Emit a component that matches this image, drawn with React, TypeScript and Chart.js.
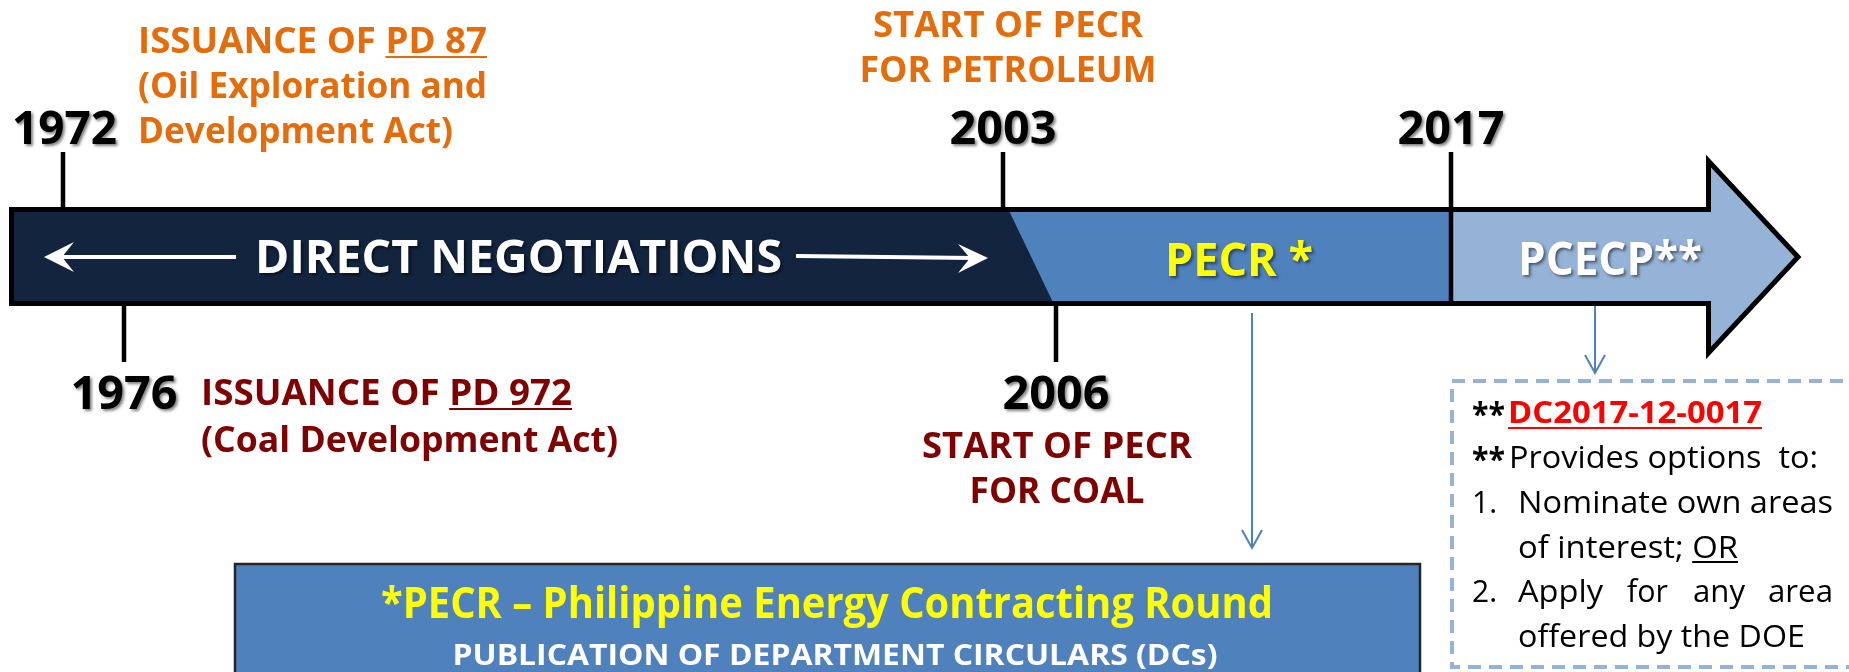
import React, { useEffect, useRef } from "react";
import { Chart, registerables } from "chart.js";

Chart.register(...registerables);

// ---------- data ----------
const years = ["1972", "1976", "2003", "2006", "2017"];
const yearSide = ["above", "below", "above", "below", "above"];
const phases = ["DIRECT NEGOTIATIONS", "PECR *", "PCECP**"];
const oilEvent = ["ISSUANCE OF ", "PD 87", "(Oil Exploration and", "Development Act)"];
const coalEvent = ["ISSUANCE OF ", "PD 972", "(Coal Development Act)"];
const petroleumStart = ["START OF PECR", "FOR PETROLEUM"];
const coalStart = ["START OF PECR", "FOR COAL"];
const pecrNote = ["*PECR \u2013 Philippine Energy Contracting Round", "PUBLICATION OF DEPARTMENT CIRCULARS (DCs)"];
const pcecpCircular = "DC2017-12-0017";
const pcecpLines = ["Provides options  to:", "Nominate own areas", "of interest; ", "OR", "Apply for any area", "offered by the DOE"];

// ---------- layout (slide units, 1 unit = 1 px) ----------
const W = 1849;
const H = 672;
const markerX = [63, 124, 1003, 1056, 1451];
const band = { left: 11.5, top: 209.5, bottom: 303.5, base: 1708.5, headTop: 161, headBottom: 353, tip: 1798, diagTop: 1007, diagBottom: 1055 };

const NAVY = "#13243f";
const MID = "#4f81bd";
const LIGHT = "#95b3d7";
const ORANGE = "#e46c0a";
const DARKRED = "#7f0000";
const FONT = "'Open Sans', 'DejaVu Sans', sans-serif";

function fitText(ctx: CanvasRenderingContext2D, text: string, x: number, y: number, width: number, align: string) {
  const w = ctx.measureText(text).width;
  const s = width / w;
  const left = align === "center" ? x - width / 2 : x;
  ctx.save();
  ctx.translate(left, y);
  ctx.scale(s, 1);
  ctx.textAlign = "left";
  ctx.fillText(text, 0, 0);
  ctx.restore();
  return { left, s };
}

function underline(ctx: CanvasRenderingContext2D, x1: number, x2: number, y: number, color: string, lw: number) {
  ctx.save();
  ctx.shadowColor = "transparent";
  ctx.strokeStyle = color;
  ctx.lineWidth = lw;
  ctx.beginPath();
  ctx.moveTo(x1, y);
  ctx.lineTo(x2, y);
  ctx.stroke();
  ctx.restore();
}

function shadowOn(ctx: CanvasRenderingContext2D) {
  ctx.shadowColor = "rgba(0,0,0,0.5)";
  ctx.shadowOffsetX = 2;
  ctx.shadowOffsetY = 2;
  ctx.shadowBlur = 3;
}

function vHead(ctx: CanvasRenderingContext2D, x: number, y: number, color: string) {
  ctx.save();
  ctx.strokeStyle = color;
  ctx.lineWidth = 2;
  ctx.beginPath();
  ctx.moveTo(x - 10, y - 18);
  ctx.lineTo(x, y);
  ctx.lineTo(x + 10, y - 18);
  ctx.stroke();
  ctx.restore();
}

const timelinePlugin = {
  id: "timeline",
  beforeDatasetsDraw(chart: any) {
    const ctx: CanvasRenderingContext2D = chart.ctx;
    const X = (v: number) => chart.scales.x.getPixelForValue(v);
    const Y = (v: number) => chart.scales.y.getPixelForValue(v);
    ctx.save();
    const outline = () => {
      ctx.beginPath();
      ctx.moveTo(X(band.left), Y(band.top));
      ctx.lineTo(X(band.base), Y(band.top));
      ctx.lineTo(X(band.base), Y(band.headTop));
      ctx.lineTo(X(band.tip), Y((band.headTop + band.headBottom) / 2));
      ctx.lineTo(X(band.base), Y(band.headBottom));
      ctx.lineTo(X(band.base), Y(band.bottom));
      ctx.lineTo(X(band.left), Y(band.bottom));
      ctx.closePath();
    };
    ctx.save();
    outline();
    ctx.clip();
    ctx.fillStyle = LIGHT;
    ctx.fillRect(0, 0, W, H);
    ctx.fillStyle = MID;
    ctx.beginPath();
    ctx.moveTo(X(band.left - 10), Y(band.top - 10));
    ctx.lineTo(X(markerX[4]), Y(band.top - 10));
    ctx.lineTo(X(markerX[4]), Y(band.bottom + 10));
    ctx.lineTo(X(band.left - 10), Y(band.bottom + 10));
    ctx.fill();
    ctx.fillStyle = NAVY;
    ctx.beginPath();
    ctx.moveTo(X(band.left - 10), Y(band.top - 3));
    ctx.lineTo(X(band.diagTop), Y(band.top - 3));
    ctx.lineTo(X(band.diagBottom), Y(band.bottom + 3));
    ctx.lineTo(X(band.left - 10), Y(band.bottom + 3));
    ctx.fill();
    ctx.restore();
    outline();
    ctx.lineWidth = 5;
    ctx.lineJoin = "miter";
    ctx.strokeStyle = "#000";
    ctx.stroke();

    // bottom PECR box
    ctx.fillStyle = MID;
    ctx.fillRect(X(234), Y(563), X(1421) - X(234), Y(700) - Y(563));
    ctx.strokeStyle = "#262626";
    ctx.lineWidth = 2.5;
    ctx.strokeRect(X(235), Y(564), X(1420) - X(235), Y(700) - Y(564));

    // dashed PCECP box
    ctx.setLineDash([13, 8]);
    ctx.strokeStyle = LIGHT;
    ctx.lineWidth = 4;
    ctx.strokeRect(X(1452), Y(381), X(1880) - X(1452), Y(667) - Y(381));
    ctx.setLineDash([]);
    ctx.restore();
  },
  afterDatasetsDraw(chart: any) {
    const ctx: CanvasRenderingContext2D = chart.ctx;
    const X = (v: number) => chart.scales.x.getPixelForValue(v);
    const Y = (v: number) => chart.scales.y.getPixelForValue(v);
    ctx.save();
    ctx.textBaseline = "alphabetic";

    // white direction arrows inside band
    ctx.fillStyle = "#fff";
    ctx.strokeStyle = "#fff";
    ctx.lineWidth = 4;
    ctx.beginPath();
    ctx.moveTo(X(236), Y(257));
    ctx.lineTo(X(56), Y(257));
    ctx.stroke();
    ctx.beginPath();
    ctx.moveTo(X(44), Y(257));
    ctx.lineTo(X(74), Y(242));
    ctx.lineTo(X(62), Y(257));
    ctx.lineTo(X(74), Y(272));
    ctx.closePath();
    ctx.fill();
    ctx.beginPath();
    ctx.moveTo(X(796), Y(256));
    ctx.lineTo(X(975), Y(258));
    ctx.stroke();
    ctx.beginPath();
    ctx.moveTo(X(988), Y(258));
    ctx.lineTo(X(958), Y(244));
    ctx.lineTo(X(970), Y(258));
    ctx.lineTo(X(958), Y(273));
    ctx.closePath();
    ctx.fill();

    // blue arrow heads
    vHead(ctx, X(1252), Y(548), MID);
    vHead(ctx, X(1595), Y(373), MID);

    // years
    ctx.save();
    shadowOn(ctx);
    ctx.fillStyle = "#000";
    ctx.font = `bold 47px ${FONT}`;
    years.forEach((yr, i) => {
      const above = yearSide[i] === "above";
      const base = above ? 144 : 409;
      if (i === 0) fitText(ctx, yr, X(12), Y(base), 105, "left");
      else fitText(ctx, yr, X(markerX[i]), Y(base), 107, "center");
    });
    ctx.font = `bold 46px ${FONT}`;
    ctx.fillStyle = "#fff";
    fitText(ctx, phases[0], X(255), Y(273), 527, "left");
    ctx.fillStyle = "#ffff00";
    fitText(ctx, phases[1], X(1165), Y(276), 148, "left");
    ctx.fillStyle = "#fff";
    fitText(ctx, phases[2], X(1518), Y(275), 184, "left");
    ctx.restore();

    // orange event texts
    ctx.font = `bold 35px ${FONT}`;
    ctx.fillStyle = ORANGE;
    {
      const full = oilEvent[0] + oilEvent[1];
      const r = fitText(ctx, full, X(138), Y(53), 349, "left");
      const pre = ctx.measureText(oilEvent[0]).width * r.s;
      underline(ctx, r.left + pre, r.left + 349, Y(57), ORANGE, 2);
      fitText(ctx, oilEvent[2], X(138), Y(98), 349, "left");
      fitText(ctx, oilEvent[3], X(138), Y(143), 315, "left");
      fitText(ctx, petroleumStart[0], X(1008), Y(37), 270, "center");
      fitText(ctx, petroleumStart[1], X(1008), Y(82), 297, "center");
    }
    // dark red event texts
    ctx.fillStyle = DARKRED;
    {
      const full = coalEvent[0] + coalEvent[1];
      const r = fitText(ctx, full, X(201), Y(405), 371, "left");
      const pre = ctx.measureText(coalEvent[0]).width * r.s;
      underline(ctx, r.left + pre, r.left + 371, Y(409), DARKRED, 2);
      fitText(ctx, coalEvent[2], X(201), Y(452), 417, "left");
      fitText(ctx, coalStart[0], X(1057), Y(458), 270, "center");
      fitText(ctx, coalStart[1], X(1057), Y(503), 175, "center");
    }

    // bottom box texts
    ctx.font = `bold 43px ${FONT}`;
    ctx.fillStyle = "#ffff00";
    fitText(ctx, pecrNote[0], X(827), Y(618), 892, "center");
    ctx.font = `bold 29px ${FONT}`;
    ctx.fillStyle = "#fff";
    fitText(ctx, pecrNote[1], X(835), Y(665), 765, "center");

    // dashed box texts
    ctx.fillStyle = "#000";
    ctx.font = `bold 32px ${FONT}`;
    fitText(ctx, "**", X(1472), Y(426), 33, "left");
    fitText(ctx, "**", X(1472), Y(471), 33, "left");
    ctx.font = `bold 30px ${FONT}`;
    ctx.fillStyle = "#ff0000";
    fitText(ctx, pcecpCircular, X(1508), Y(423), 254, "left");
    underline(ctx, X(1508), X(1762), Y(428), "#ff0000", 2);
    ctx.fillStyle = "#000";
    ctx.font = `31px ${FONT}`;
    fitText(ctx, pcecpLines[0], X(1509), Y(468), 309, "left");
    fitText(ctx, "1.", X(1472), Y(513), 25, "left");
    fitText(ctx, pcecpLines[1], X(1518), Y(513), 315, "left");
    const r = fitText(ctx, pcecpLines[2] + pcecpLines[3], X(1518), Y(558), 220, "left");
    const pre = ctx.measureText(pcecpLines[2]).width * r.s;
    underline(ctx, r.left + pre, r.left + 220, Y(562), "#000", 2);
    fitText(ctx, "2.", X(1472), Y(602), 25, "left");
    {
      const words = pcecpLines[4].split(" ");
      const starts = [1518, 1627, 1693, 1768];
      const ends = [1603, 1668, 1745, 1833];
      words.forEach((w, i) => fitText(ctx, w, X(starts[i]), Y(602), ends[i] - starts[i], "left"));
    }
    fitText(ctx, pcecpLines[5], X(1518), Y(647), 287, "left");
    ctx.restore();
  },
};

const seg = (x1: number, y1: number, x2: number, y2: number, color: string, width: number) => ({
  data: [
    { x: x1, y: y1 },
    { x: x2, y: y2 },
  ],
  showLine: true,
  borderColor: color,
  borderWidth: width,
  pointRadius: 0,
  borderCapStyle: "butt",
});

export default function App() {
  const ref = useRef<HTMLCanvasElement | null>(null);
  useEffect(() => {
    if (!ref.current) return;
    const tickTop = [152, 209];
    const tickBottom = [304, 362];
    const datasets: any[] = years.map((_, i) => {
      if (i === 4) return seg(markerX[i], 152, markerX[i], 306, "#000", 4.5);
      const [a, b] = yearSide[i] === "above" ? tickTop : tickBottom;
      return seg(markerX[i], a, markerX[i], b, "#000", 4.5);
    });
    datasets.push(seg(1252, 313, 1252, 547, MID, 2));
    datasets.push(seg(1595, 306, 1595, 372, MID, 2));
    const chart = new Chart(ref.current, {
      type: "scatter",
      data: { datasets },
      options: {
        responsive: false,
        animation: false,
        layout: { padding: 0 },
        plugins: { legend: { display: false }, tooltip: { enabled: false } },
        scales: {
          x: { type: "linear", display: false, min: 0, max: W },
          y: { type: "linear", display: false, min: 0, max: H, reverse: true },
        },
      },
      plugins: [timelinePlugin],
    } as any);
    return () => chart.destroy();
  }, []);
  return (
    <div style={{ position: "absolute", left: 0, top: 0, width: W, height: H, background: "#fff" }}>
      <canvas ref={ref} width={W} height={H} style={{ display: "block" }} />
    </div>
  );
}
